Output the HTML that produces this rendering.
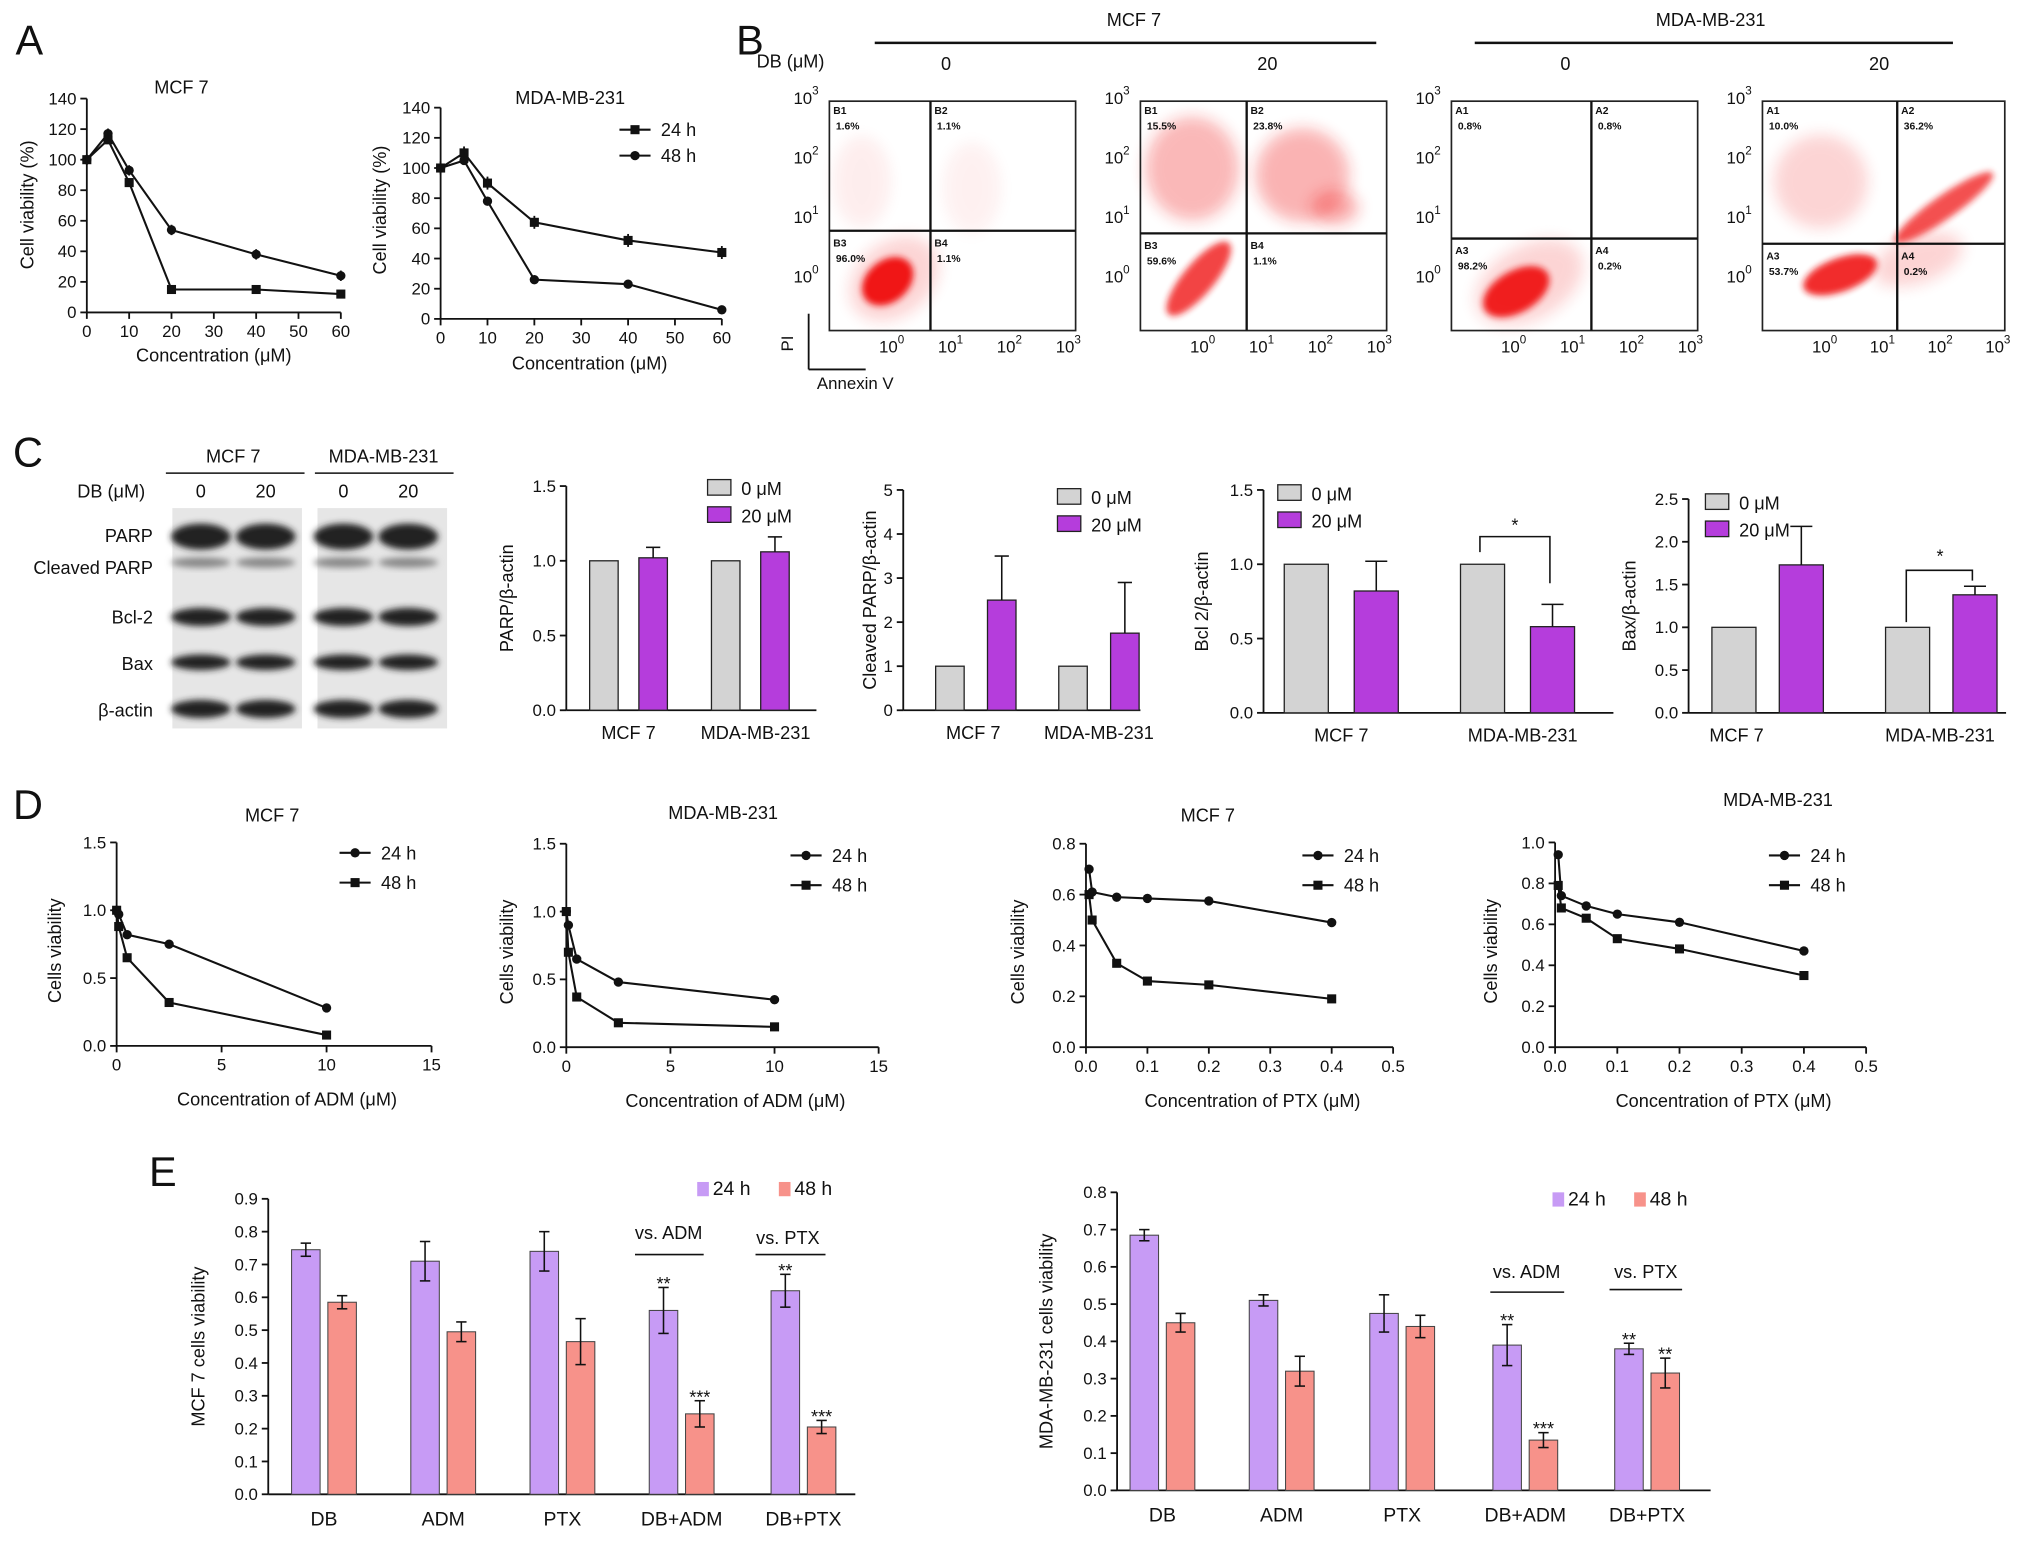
<!DOCTYPE html>
<html><head><meta charset="utf-8"><style>
html,body{margin:0;padding:0;background:#fff;}
svg{display:block;font-family:"Liberation Sans",Arial,sans-serif;}
</style></head><body>
<svg id="fig" width="2032" height="1554" viewBox="0 0 1568 1199" xmlns="http://www.w3.org/2000/svg">
<defs>
<filter id="blur2" x="-50%" y="-50%" width="200%" height="200%"><feGaussianBlur stdDeviation="2.5"/></filter>
<filter id="blur6" x="-50%" y="-50%" width="200%" height="200%"><feGaussianBlur stdDeviation="6"/></filter>
</defs>
</svg>
<script>
// ===== Panel A data =====
const aX=[0,5,10,20,40,60];
const aMcf24=[100,113,85,15,15,12];
const aMcf48=[100,117,93,54,38,24];
const aMda24=[100,110,90,64,52,44];
const aMda48=[100,105,78,26,23,6];
const aYTicks=[0,20,40,60,80,100,120,140];
const aXTicks=[0,10,20,30,40,50,60];
// ===== Panel C data =====
const cCats=['MCF 7','MDA-MB-231'];
const cParp0=[1,1], cParp20=[1.02,1.06], cParpErr=[0.07,0.1];
const cCl0=[1,1], cCl20=[2.5,1.75], cClErr=[1.0,1.15];
const cBcl0=[1,1], cBcl20=[0.82,0.58], cBclErr=[0.2,0.15];
const cBax0=[1,1], cBax20=[1.73,1.38], cBaxErr=[0.45,0.1];
// ===== Panel D data =====
const dAdmX=[0,0.1,0.5,2.5,10];
const dMcfAdm24=[1.0,0.97,0.82,0.75,0.28];
const dMcfAdm48=[1.0,0.88,0.65,0.32,0.08];
const dMdaAdm24=[1.0,0.9,0.65,0.48,0.35];
const dMdaAdm48=[1.0,0.7,0.37,0.18,0.15];
const dPtxX=[0.005,0.01,0.05,0.1,0.2,0.4];
const dMcfPtx24=[0.70,0.61,0.59,0.585,0.575,0.49];
const dMcfPtx48=[0.60,0.50,0.33,0.26,0.245,0.19];
const dMdaPtx24=[0.94,0.74,0.69,0.65,0.61,0.47];
const dMdaPtx48=[0.79,0.68,0.63,0.53,0.48,0.35];
// ===== Panel E data =====
const eCats=['DB','ADM','PTX','DB+ADM','DB+PTX'];
const eMcf24=[0.745,0.71,0.74,0.56,0.62], eMcf24Err=[0.02,0.06,0.06,0.07,0.05];
const eMcf48=[0.585,0.495,0.465,0.245,0.205], eMcf48Err=[0.02,0.03,0.07,0.04,0.02];
const eMda24=[0.685,0.51,0.475,0.39,0.38], eMda24Err=[0.015,0.015,0.05,0.055,0.015];
const eMda48=[0.45,0.32,0.44,0.135,0.315], eMda48Err=[0.025,0.04,0.03,0.02,0.04];

const NS='http://www.w3.org/2000/svg';
const svg=document.getElementById('fig');
function mk(tag,attrs,name,parent){
  const el=document.createElementNS(NS,tag);
  for(const k in attrs) el.setAttribute(k,attrs[k]);
  
  
  (parent||svg).appendChild(el); return el;
}
function txt(x,y,s,name,o){o=o||{};
  const t=mk('text',Object.assign({x:x,y:y,'font-size':o.fs||13,'text-anchor':o.a||'middle',fill:o.fill||'#111'},o.attrs||{}),name);
  t.textContent=s; return t;}
function vtxt(x,y,s,name,fs){return txt(x,y,s,name,{fs:fs||13,attrs:{transform:'rotate(-90 '+x+' '+y+')'}});}
function lin(a,b,c,d,name,w){mk('line',{x1:a,y1:b,x2:c,y2:d,stroke:'#111','stroke-width':w||1.4},name);}
function scale(d0,d1,r0,r1){return v=>r0+(v-d0)/(d1-d0)*(r1-r0);}
function fmt1(v){return v.toFixed(1);}
function fmt0(v){return String(v);}
function axes(c){
  const X=scale(c.xd[0],c.xd[1],c.px0,c.px1), Y=scale(c.yd[0],c.yd[1],c.py0,c.py1);
  lin(c.px0,c.py0,c.px1,c.py0,c.id+'-x-axis'); lin(c.px0,c.py0,c.px0,c.py1,c.id+'-y-axis');
  c.yt.forEach(v=>{lin(c.px0-5,Y(v),c.px0,Y(v),'y-tick');txt(c.px0-8,Y(v)+4.5,c.yf(v),'y-tick-label',{a:'end'});});
  if(c.xt) c.xt.forEach(v=>{lin(X(v),c.py0,X(v),c.py0+5,'x-tick');txt(X(v),c.py0+19,c.xf(v),'x-tick-label');});
  return {X:X,Y:Y};
}
function marker(x,y,type,name){
  if(type==='sq') mk('rect',{x:x-3.5,y:y-3.5,width:7,height:7,fill:'#111'},name);
  else mk('circle',{cx:x,cy:y,r:3.6,fill:'#111'},name);
}
function series(ax,xs,ys,type,name){
  const pts=xs.map((x,i)=>ax.X(x)+','+ax.Y(ys[i])).join(' ');
  mk('polyline',{points:pts,fill:'none',stroke:'#111','stroke-width':1.6},name+'-line');
  xs.forEach((x,i)=>marker(ax.X(x),ax.Y(ys[i]),type,name+'-point'));
}
function legendLine(x,y,type,label,name){
  lin(x,y,x+24,y,name+'-swatch',1.6); marker(x+12,y,type,name+'-marker');
  txt(x+32,y+5,label,name+'-label',{a:'start',fs:14});
}

[['A',12,42],['B',568,42],['C',10,360],['D',10,632],['E',115,915]].forEach(p=>txt(p[1],p[2],p[0],'panel-label-'+p[0].toLowerCase(),{a:'start',fs:32}));

// ===== Panel A =====
let ax=axes({id:'a1',px0:67,px1:263,py0:241,py1:76,xd:[0,60],yd:[0,140],xt:aXTicks,yt:aYTicks,xf:fmt0,yf:fmt0});
series(ax,aX,aMcf48,'ci','a1-48h'); series(ax,aX,aMcf24,'sq','a1-24h');
aX.forEach((x,i)=>{lin(ax.X(x),ax.Y(aMcf48[i])-4,ax.X(x),ax.Y(aMcf48[i])+4,'error-bar');});
txt(140,72,'MCF 7','a1-title',{fs:14});
vtxt(26,158,'Cell viability (%)','a1-y-title',14);
txt(165,279,'Concentration (μM)','a1-x-title',{fs:14});
ax=axes({id:'a2',px0:340,px1:557,py0:246,py1:83,xd:[0,60],yd:[0,140],xt:aXTicks,yt:aYTicks,xf:fmt0,yf:fmt0});
series(ax,aX,aMda24,'sq','a2-24h'); series(ax,aX,aMda48,'ci','a2-48h');
aX.forEach((x,i)=>{lin(ax.X(x),ax.Y(aMda24[i])-5,ax.X(x),ax.Y(aMda24[i])+5,'error-bar');});
txt(440,80,'MDA-MB-231','a2-title',{fs:14});
vtxt(298,162,'Cell viability (%)','a2-y-title',14);
txt(455,285,'Concentration (μM)','a2-x-title',{fs:14});
legendLine(478,100,'sq','24 h','a2-legend-24h'); legendLine(478,120,'ci','48 h','a2-legend-48h');

// ===== Panel B =====
txt(875,20,'MCF 7','b-mcf7-header',{fs:14}); lin(675,33,1062,33,'b-mcf7-line',2);
txt(1320,20,'MDA-MB-231','b-mda-header',{fs:14}); lin(1138,33,1507,33,'b-mda-line',2);
txt(610,52,'DB (μM)','b-db-label',{fs:14});
[['0',730],['20',978],['0',1208],['20',1450]].forEach(p=>txt(p[1],54,p[0],'b-dose-label',{fs:14}));
function pow10(x,y,e,name){const t=mk('text',{x:x,y:y,'font-size':13,'text-anchor':'middle',fill:'#111'},name);t.textContent='10';
  const s=mk('tspan',{dy:-7,'font-size':9},name+'-exp',t);s.textContent=e;}
const boxes=[
 {x0:640,x1:830,qx:718,qy:178,lab:['B1','B2','B3','B4'],pct:['1.6%','1.1%','96.0%','1.1%'],
  cl:[[685,217,22,16,-40,1,'blur2'],[690,215,38,28,-40,0.18,'blur6'],[665,140,22,35,0,0.07,'blur6'],[750,145,22,35,0,0.06,'blur6']]},
 {x0:880,x1:1070,qx:962,qy:180,lab:['B1','B2','B3','B4'],pct:['15.5%','23.8%','59.6%','1.1%'],
  cl:[[925,215,36,12,-50,0.8,'blur2'],[920,130,36,40,0,0.3,'blur6'],[1005,135,36,36,0,0.32,'blur6'],[1030,160,18,13,0,0.35,'blur6']]},
 {x0:1120,x1:1310,qx:1228,qy:184,lab:['A1','A2','A3','A4'],pct:['0.8%','0.8%','98.2%','0.2%'],
  cl:[[1170,225,28,16,-30,0.95,'blur2'],[1180,218,45,28,-30,0.18,'blur6']]},
 {x0:1360,x1:1547,qx:1464,qy:188,lab:['A1','A2','A3','A4'],pct:['10.0%','36.2%','53.7%','0.2%'],
  cl:[[1420,212,30,13,-20,0.9,'blur2'],[1500,160,46,9,-35,0.75,'blur2'],[1405,140,36,36,0,0.18,'blur6'],[1480,200,36,18,-20,0.18,'blur6']]}
];
boxes.forEach((b,i)=>{
  const y0=78,y1=255;
  b.cl.forEach(c=>mk('ellipse',{cx:c[0],cy:c[1],rx:c[2],ry:c[3],fill:'#f01818',opacity:c[5],filter:'url(#'+c[6]+')',transform:'rotate('+c[4]+' '+c[0]+' '+c[1]+')'},'b-plot'+(i+1)+'-cluster'));
  mk('rect',{x:b.x0,y:y0,width:b.x1-b.x0,height:y1-y0,fill:'none',stroke:'#222','stroke-width':1.3},'b-plot'+(i+1)+'-frame');
  lin(b.qx,y0,b.qx,y1,'b-quadrant-v',1.8); lin(b.x0,b.qy,b.x1,b.qy,'b-quadrant-h',1.8);
  const qp=[[b.x0+3,y0+10],[b.qx+3,y0+10],[b.x0+3,b.qy+12],[b.qx+3,b.qy+12]];
  qp.forEach((p,k)=>{txt(p[0],p[1],b.lab[k],'b-quadrant-name',{a:'start',fs:8,attrs:{'font-weight':'bold'}});
    txt(p[0]+2,p[1]+12,b.pct[k],'b-quadrant-percent',{a:'start',fs:8,attrs:{'font-weight':'bold'}});});
  const ys=[y0,y0+46,y0+92,y0+138];
  ['3','2','1','0'].forEach((e,k)=>pow10(b.x0-18,ys[k]+2,e,'b-y-tick-label'));
  const w=b.x1-b.x0;
  ['0','1','2','3'].forEach((e,k)=>pow10(b.x0+48+k*(w-40)/3.3,y1+17,e,'b-x-tick-label'));
});
lin(624,242,624,285,'b-pi-axis',1.4); lin(624,285,668,285,'b-annexin-axis',1.4);
vtxt(612,265,'PI','b-pi-label',13); txt(660,300,'Annexin V','b-annexin-label',{fs:13});

// ===== Panel C blot =====
txt(180,357,'MCF 7','c-blot-mcf7',{fs:14}); lin(128,365,235,365,'c-blot-mcf7-line',1.2);
txt(296,357,'MDA-MB-231','c-blot-mda',{fs:14}); lin(243,365,350,365,'c-blot-mda-line',1.2);
txt(112,384,'DB (μM)','c-blot-db',{a:'end',fs:14});
[['0',155],['20',205],['0',265],['20',315]].forEach(p=>txt(p[1],384,p[0],'c-blot-dose',{fs:14}));
mk('rect',{x:133,y:392,width:100,height:170,fill:'#e6e6e6'},'c-blot-membrane-mcf7');
mk('rect',{x:245,y:392,width:100,height:170,fill:'#e6e6e6'},'c-blot-membrane-mda');
const bandRows=[[414,10],[434,4],[476,7],[511,6],[547,7]];
[155,205,265,315].forEach(cx=>bandRows.forEach((r,j)=>mk('ellipse',{cx:cx,cy:r[0],rx:23,ry:r[1],fill:j===1?'#888':'#222',filter:'url(#blur2)'},'c-blot-band')));
[['PARP',413],['Cleaved PARP',438],['Bcl-2',476],['Bax',512],['β-actin',548]].forEach(p=>txt(118,p[1]+5,p[0],'c-blot-row-label',{a:'end',fs:14}));

// ===== Panel C bars =====
function barC(c,v0,v20,err){
  const a=axes({id:c.id,px0:c.px0,px1:c.px1,py0:c.py0,py1:c.py1,xd:[0,1],yd:[0,c.ymax],yt:c.yt,yf:c.yf});
  c.cx.forEach((x,i)=>{
    const bw=c.bw;
    mk('rect',{x:x-bw-c.gap,y:a.Y(v0[i]),width:bw,height:c.py0-a.Y(v0[i]),fill:'#d3d3d3',stroke:'#222','stroke-width':1},c.id+'-bar-0uM');
    mk('rect',{x:x+c.gap,y:a.Y(v20[i]),width:bw,height:c.py0-a.Y(v20[i]),fill:'#b53ddc',stroke:'#222','stroke-width':1},c.id+'-bar-20uM');
    const ex=x+c.gap+bw/2, et=a.Y(v20[i]+err[i]);
    lin(ex,a.Y(v20[i]),ex,et,'error-bar',1.2); lin(ex-bw/4,et,ex+bw/4,et,'error-cap',1.2);
    txt(c.lx[i],c.py0+22,cCats[i],c.id+'-x-label',{fs:14});
  });
  mk('rect',{x:c.lg[0],y:c.lg[1]-8,width:18,height:12,fill:'#d3d3d3',stroke:'#222'},c.id+'-legend-0-swatch');
  txt(c.lg[0]+26,c.lg[1]+4,'0 μM','c-legend-0-label',{a:'start',fs:14});
  mk('rect',{x:c.lg[0],y:c.lg[1]+13,width:18,height:12,fill:'#b53ddc',stroke:'#222'},c.id+'-legend-20-swatch');
  txt(c.lg[0]+26,c.lg[1]+25,'20 μM','c-legend-20-label',{a:'start',fs:14});
  vtxt(c.ylx,(c.py0+c.py1)/2,c.ylab,c.id+'-y-title',14);
  return a;
}
barC({id:'c1',px0:437,px1:630,py0:548,py1:375,ymax:1.5,yt:[0,0.5,1,1.5],yf:fmt1,cx:[485,579],bw:22,gap:8,lx:[485,583],lg:[546,378],ylab:'PARP/β-actin',ylx:396},cParp0,cParp20,cParpErr);
barC({id:'c2',px0:697,px1:880,py0:548,py1:378,ymax:5,yt:[0,1,2,3,4,5],yf:fmt0,cx:[753,848],bw:22,gap:9,lx:[751,848],lg:[816,385],ylab:'Cleaved PARP/β-actin',ylx:676},cCl0,cCl20,cClErr);
barC({id:'c3',px0:975,px1:1245,py0:550,py1:378,ymax:1.5,yt:[0,0.5,1,1.5],yf:fmt1,cx:[1035,1171],bw:34,gap:10,lx:[1035,1175],lg:[986,382],ylab:'Bcl 2/β-actin',ylx:932},cBcl0,cBcl20,cBclErr);
mk('polyline',{points:'1142,426 1142,414 1196,414 1196,450',fill:'none',stroke:'#111','stroke-width':1.2},'c3-significance-bracket');
txt(1169,410,'*','c3-significance-star',{fs:14});
barC({id:'c4',px0:1303,px1:1548,py0:550,py1:385,ymax:2.5,yt:[0,0.5,1,1.5,2,2.5],yf:fmt1,cx:[1364,1498],bw:34,gap:9,lx:[1340,1497],lg:[1316,389],ylab:'Bax/β-actin',ylx:1262},cBax0,cBax20,cBaxErr);
mk('polyline',{points:'1471,480 1471,440 1522,440 1522,448',fill:'none',stroke:'#111','stroke-width':1.2},'c4-significance-bracket');
txt(1497,434,'*','c4-significance-star',{fs:14});

// ===== Panel D =====
function lineD(c,xs,y24,y48){
  const a=axes(c);
  series(a,xs,y24,'ci',c.id+'-24h'); series(a,xs,y48,'sq',c.id+'-48h');
  txt(c.tx,c.ty,c.title,c.id+'-title',{fs:14});
  vtxt(c.ylx,(c.py0+c.py1)/2+5,'Cells viability',c.id+'-y-title',14);
  txt((c.px0+c.px1)/2+10,c.py0+46,c.xlab,c.id+'-x-title',{fs:14});
  legendLine(c.lg[0],c.lg[1],'ci','24 h',c.id+'-legend-24h'); legendLine(c.lg[0],c.lg[1]+23,'sq','48 h',c.id+'-legend-48h');
}
lineD({id:'d1',px0:90,px1:333,py0:807,py1:650,xd:[0,15],yd:[0,1.5],xt:[0,5,10,15],yt:[0,0.5,1,1.5],xf:fmt0,yf:fmt1,tx:210,ty:634,title:'MCF 7',ylx:47,xlab:'Concentration of ADM (μM)',lg:[262,658]},dAdmX,dMcfAdm24,dMcfAdm48);
lineD({id:'d2',px0:437,px1:678,py0:808,py1:651,xd:[0,15],yd:[0,1.5],xt:[0,5,10,15],yt:[0,0.5,1,1.5],xf:fmt0,yf:fmt1,tx:558,ty:632,title:'MDA-MB-231',ylx:396,xlab:'Concentration of ADM (μM)',lg:[610,660]},dAdmX,dMdaAdm24,dMdaAdm48);
lineD({id:'d3',px0:838,px1:1075,py0:808,py1:651,xd:[0,0.5],yd:[0,0.8],xt:[0,0.1,0.2,0.3,0.4,0.5],yt:[0,0.2,0.4,0.6,0.8],xf:fmt1,yf:fmt1,tx:932,ty:634,title:'MCF 7',ylx:790,xlab:'Concentration of PTX (μM)',lg:[1005,660]},dPtxX,dMcfPtx24,dMcfPtx48);
lineD({id:'d4',px0:1200,px1:1440,py0:808,py1:650,xd:[0,0.5],yd:[0,1.0],xt:[0,0.1,0.2,0.3,0.4,0.5],yt:[0,0.2,0.4,0.6,0.8,1.0],xf:fmt1,yf:fmt1,tx:1372,ty:622,title:'MDA-MB-231',ylx:1155,xlab:'Concentration of PTX (μM)',lg:[1365,660]},dPtxX,dMdaPtx24,dMdaPtx48);

// ===== Panel E =====
function barE(c,v24,e24,v48,e48){
  const a=axes({id:c.id,px0:c.px0,px1:c.px1,py0:c.py0,py1:c.py1,xd:[0,1],yd:[0,c.ymax],yt:c.yt,yf:fmt1});
  c.cx.forEach((x,i)=>{
    [[v24,e24,x-25,'#c79bf5','24h'],[v48,e48,x+3,'#f7928a','48h']].forEach(s=>{
      const v=s[0][i],e=s[1][i];
      mk('rect',{x:s[2],y:a.Y(v),width:22,height:c.py0-a.Y(v),fill:s[3],stroke:'#444','stroke-width':0.8},c.id+'-bar-'+s[4]);
      const ex=s[2]+11;
      lin(ex,a.Y(v-e),ex,a.Y(v+e),'error-bar',1.2); lin(ex-4,a.Y(v+e),ex+4,a.Y(v+e),'error-cap',1.2); lin(ex-4,a.Y(v-e),ex+4,a.Y(v-e),'error-cap',1.2);
    });
    txt(x,c.py0+24,eCats[i],c.id+'-x-label',{fs:15});
  });
  mk('rect',{x:c.lg[0],y:c.lg[1]-10,width:9,height:11,fill:'#c79bf5'},c.id+'-legend-24h-swatch');
  txt(c.lg[0]+12,c.lg[1],'24 h','e-legend-24h-label',{a:'start',fs:15});
  mk('rect',{x:c.lg[0]+63,y:c.lg[1]-10,width:9,height:11,fill:'#f7928a'},c.id+'-legend-48h-swatch');
  txt(c.lg[0]+75,c.lg[1],'48 h','e-legend-48h-label',{a:'start',fs:15});
  vtxt(c.ylx,(c.py0+c.py1)/2,c.ylab,c.id+'-y-title',14);
  return a;
}
let e1=barE({id:'e1',px0:207,px1:660,py0:1153,py1:925,ymax:0.9,yt:[0,0.1,0.2,0.3,0.4,0.5,0.6,0.7,0.8,0.9],cx:[250,342,434,526,620],lg:[538,922],ylab:'MCF 7 cells viability',ylx:158},eMcf24,eMcf24Err,eMcf48,eMcf48Err);
txt(516,956,'vs. ADM','e1-vs-adm',{fs:14}); lin(490,968,543,968,'e1-vs-adm-line',1.2);
txt(608,960,'vs. PTX','e1-vs-ptx',{fs:14}); lin(583,968,637,968,'e1-vs-ptx-line',1.2);
[[512,e1.Y(eMcf24[3]+eMcf24Err[3])-4,'**'],[540,e1.Y(eMcf48[3]+eMcf48Err[3])-4,'***'],[606,e1.Y(eMcf24[4]+eMcf24Err[4])-4,'**'],[634,e1.Y(eMcf48[4]+eMcf48Err[4])-4,'***']].forEach(s=>txt(s[0],s[1]+6,s[2],'e1-significance',{fs:14}));
let e2=barE({id:'e2',px0:862,px1:1320,py0:1150,py1:920,ymax:0.8,yt:[0,0.1,0.2,0.3,0.4,0.5,0.6,0.7,0.8],cx:[897,989,1082,1177,1271],lg:[1198,930],ylab:'MDA-MB-231 cells viability',ylx:812},eMda24,eMda24Err,eMda48,eMda48Err);
txt(1178,986,'vs. ADM','e2-vs-adm',{fs:14}); lin(1150,997,1207,997,'e2-vs-adm-line',1.2);
txt(1270,986,'vs. PTX','e2-vs-ptx',{fs:14}); lin(1242,995,1298,995,'e2-vs-ptx-line',1.2);
[[1163,e2.Y(eMda24[3]+eMda24Err[3])-4,'**'],[1191,e2.Y(eMda48[3]+eMda48Err[3])-4,'***'],[1257,e2.Y(eMda24[4]+eMda24Err[4])-4,'**'],[1285,e2.Y(eMda48[4]+eMda48Err[4])-4,'**']].forEach(s=>txt(s[0],s[1]+6,s[2],'e2-significance',{fs:14}));
</script>
</body></html>
